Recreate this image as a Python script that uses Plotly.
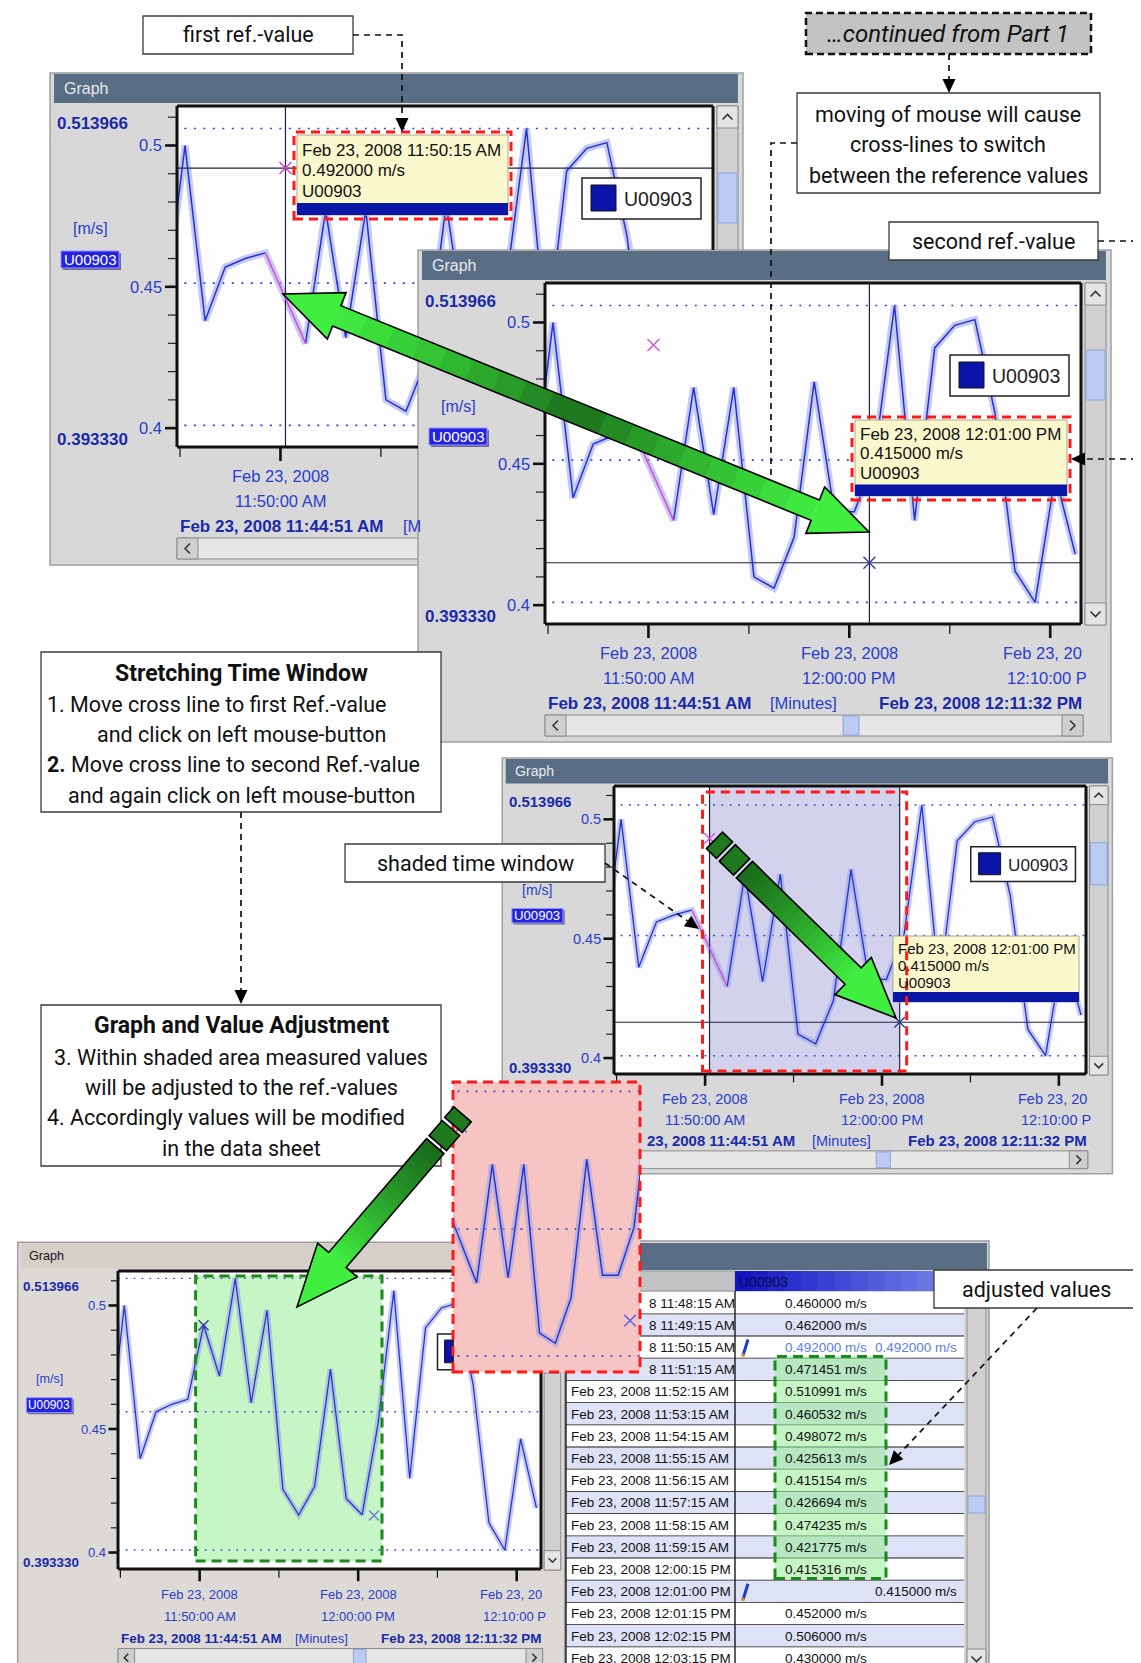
import math
import plotly.graph_objects as go
from datetime import datetime, timedelta

W, H = 1141, 1663

# ----------------------------- data -----------------------------
series_name = "U00903"
unit = "m/s"
sample_times = [
    "2008-02-23 11:44:15", "2008-02-23 11:45:15", "2008-02-23 11:46:15", "2008-02-23 11:47:15",
    "2008-02-23 11:48:15", "2008-02-23 11:49:15", "2008-02-23 11:50:15", "2008-02-23 11:51:15",
    "2008-02-23 11:52:15", "2008-02-23 11:53:15", "2008-02-23 11:54:15", "2008-02-23 11:55:15",
    "2008-02-23 11:56:15", "2008-02-23 11:57:15", "2008-02-23 11:58:15", "2008-02-23 11:59:15",
    "2008-02-23 12:00:15", "2008-02-23 12:01:15", "2008-02-23 12:02:15", "2008-02-23 12:03:15",
    "2008-02-23 12:04:15", "2008-02-23 12:05:15", "2008-02-23 12:06:15", "2008-02-23 12:07:15",
    "2008-02-23 12:08:15", "2008-02-23 12:09:15", "2008-02-23 12:10:15", "2008-02-23 12:11:15"]
measured_values = [0.443, 0.500, 0.438, 0.457, 0.460, 0.462, None, 0.430,
                   0.477, 0.432, 0.477, 0.410, 0.406, 0.424, 0.479, 0.433,
                   0.433, 0.452, 0.506, 0.430, 0.491, 0.499, 0.501, 0.468,
                   0.412, 0.401, 0.446, 0.418]
adjusted_values = [0.443, 0.500, 0.438, 0.457, 0.460, 0.462, 0.492, 0.471451,
                   0.510991, 0.460532, 0.498072, 0.425613, 0.415154, 0.426694, 0.474235, 0.421775,
                   0.415316, 0.452, 0.506, 0.430, 0.491, 0.499, 0.501, 0.468,
                   0.412, 0.401, 0.446, 0.418]
ref_times = ["2008-02-23 11:50:15", "2008-02-23 12:01:00"]
ref_values = [0.492, 0.415]
window_start = "2008-02-23 11:44:51"
window_end = "2008-02-23 12:11:32"
axis_min_label = 0.393330
axis_max_label = 0.513966
y_tick_values = [0.40, 0.45, 0.50]
y_tick_labels = ["0.4", "0.45", "0.5"]
table_first = "2008-02-23 11:48:15"
table_last = "2008-02-23 12:03:15"
inset_start = "2008-02-23 11:49:45"
inset_end = "2008-02-23 12:01:38"
inset_ymin, inset_ymax = 0.3946, 0.5097

LONG = "%b %d, %Y %I:%M:%S %p"
UI = "Liberation Sans, Arial, sans-serif"
NARROW = "Roboto, Liberation Sans, sans-serif"


def DT(s):
    return datetime.strptime(s, "%Y-%m-%d %H:%M:%S")


def fmt(d):
    return d.strftime("%Y-%m-%d %H:%M:%S.%f")[:-3]


def make_g(L, T, R, B, t0=None, t1=None, y0=axis_min_label, y1=axis_max_label):
    return dict(L=L, T=T, R=R, B=B, t0=t0 or DT(window_start), t1=t1 or DT(window_end), y0=y0, y1=y1)


def tx(g, t):
    if isinstance(t, str):
        t = DT(t)
    return g['L'] + (t - g['t0']).total_seconds() / (g['t1'] - g['t0']).total_seconds() * (g['R'] - g['L'])


def vy(g, v):
    return g['B'] - (v - g['y0']) / (g['y1'] - g['y0']) * (g['B'] - g['T'])


def px2t(g, x):
    return g['t0'] + (g['t1'] - g['t0']) * ((x - g['L']) / (g['R'] - g['L']))


def py2v(g, y):
    return g['y0'] + (g['B'] - y) / (g['B'] - g['T']) * (g['y1'] - g['y0'])


shapes, annotations, traces, axes = [], [], [], {}


def X(x):
    return x / W


def Y(y):
    return 1 - y / H


def _line(color, lw, dash=None):
    d = dict(color=color if color else 'rgba(0,0,0,0)', width=lw if color else 0)
    if dash:
        d['dash'] = dash
    return d


def rect(x0, y0, x1, y1, fill=None, line=None, lw=1.0, dash=None, layer='below'):
    shapes.append(dict(type='rect', xref='paper', yref='paper', x0=X(x0), x1=X(x1), y0=Y(y1), y1=Y(y0),
                       fillcolor=fill or 'rgba(0,0,0,0)', line=_line(line, lw, dash), layer=layer))


def seg(x0, y0, x1, y1, color='black', lw=1.0, dash=None, layer='below'):
    shapes.append(dict(type='line', xref='paper', yref='paper', x0=X(x0), x1=X(x1), y0=Y(y0), y1=Y(y1),
                       line=_line(color, lw, dash), layer=layer))


def poly(pts, fill=None, line=None, lw=1.0, dash=None, layer='above', closed=True):
    p = 'M ' + ' L '.join(f'{X(a):.6f},{Y(b):.6f}' for a, b in pts) + (' Z' if closed else '')
    shapes.append(dict(type='path', xref='paper', yref='paper', path=p, fillcolor=fill or 'rgba(0,0,0,0)',
                       line=_line(line, lw, dash), layer=layer))


def circle(cx, cy, r, fill, layer='above'):
    shapes.append(dict(type='circle', xref='paper', yref='paper', x0=X(cx - r), x1=X(cx + r), y0=Y(cy + r),
                       y1=Y(cy - r), fillcolor=fill, line=dict(width=0), layer=layer))


def text(x, y, s, size, color='#111111', align='center', family=UI, bold=False, italic=False, hide=None, cw=None):
    if hide is not None:
        hx0, hy0, hx1, hy1 = hide
        if hx0 <= x <= hx1 and hy0 <= y <= hy1:
            cw = cw or size * 0.55
            n = len(s)
            if align == 'left':
                k = math.ceil((hx1 - x) / cw)
                if k >= n:
                    return
                s = s[k:]
                x = x + k * cw
            else:
                left = x - (n * cw if align == 'right' else n * cw / 2)
                k = int((hx0 - left) // cw)
                if k <= 0:
                    return
                s = s[:k]
                x = left
                align = 'left'
    t = s
    if bold:
        t = f'<b>{t}</b>'
    if italic:
        t = f'<i>{t}</i>'
    annotations.append(dict(xref='paper', yref='paper', x=X(x), y=Y(y), text=t, showarrow=False,
                            xanchor=align, yanchor='middle', font=dict(size=size, color=color, family=family)))


def chevron(cx, cy, d, s, color='#333333', lw=1.6):
    if d == 'up':
        pts = [(cx - s, cy + s / 2), (cx, cy - s / 2), (cx + s, cy + s / 2)]
    elif d == 'down':
        pts = [(cx - s, cy - s / 2), (cx, cy + s / 2), (cx + s, cy - s / 2)]
    elif d == 'left':
        pts = [(cx + s / 2, cy - s), (cx - s / 2, cy), (cx + s / 2, cy + s)]
    else:
        pts = [(cx - s / 2, cy - s), (cx + s / 2, cy), (cx - s / 2, cy + s)]
    poly(pts, line=color, lw=lw, layer='below', closed=False)


def clip_seg(a, b, hide):
    if hide is None:
        return [(a, b)]
    hx0, hy0, hx1, hy1 = hide
    out = []
    if a[1] == b[1]:
        y = a[1]
        if not (hy0 <= y <= hy1):
            return [(a, b)]
        x0, x1 = sorted((a[0], b[0]))
        if x0 < hx0:
            out.append(((x0, y), (min(x1, hx0), y)))
        if x1 > hx1:
            out.append(((max(x0, hx1), y), (x1, y)))
    else:
        x = a[0]
        if not (hx0 <= x <= hx1):
            return [(a, b)]
        y0, y1 = sorted((a[1], b[1]))
        if y0 < hy0:
            out.append(((x, y0), (x, min(y1, hy0))))
        if y1 > hy1:
            out.append(((x, max(y0, hy1)), (x, y1)))
    return out


# ----------------------------- subplots & series -----------------------------
def subplot(g, region=None):
    k = len([a for a in axes if a.startswith('xaxis')]) + 1
    x0, y0, x1, y1 = region if region else (g['L'], g['T'], g['R'], g['B'])
    sfx = '' if k == 1 else str(k)
    axes['xaxis' + sfx] = dict(domain=[X(x0), X(x1)], range=[fmt(px2t(g, x0)), fmt(px2t(g, x1))], type='date',
                               visible=False, anchor='y' + sfx, fixedrange=True)
    axes['yaxis' + sfx] = dict(domain=[Y(y1), Y(y0)], range=[py2v(g, y1), py2v(g, y0)], visible=False,
                               anchor='x' + sfx, fixedrange=True)
    return 'x' + sfx, 'y' + sfx


def series(xa, ya, g, values, s, gap=False, shade=None, vlines=(), hlines=(), marks=()):
    common = dict(xaxis=xa, yaxis=ya, hoverinfo='skip', showlegend=False)
    lo, hi = fmt(g['t0'] - timedelta(minutes=2)), fmt(g['t1'] + timedelta(minutes=2))
    if shade:
        a, b = shade
        traces.append(go.Scatter(x=[a, a, b, b, a], y=[g['y0'] - 1, g['y1'] + 1, g['y1'] + 1, g['y0'] - 1, g['y0'] - 1],
                                 mode='lines', fill='toself', fillcolor='rgba(150,150,214,0.42)',
                                 line=dict(width=0), **common))
    vals = [v for v in values if v is not None]
    for lv in (max(vals), sum(vals) / len(vals), min(vals)):
        traces.append(go.Scatter(x=[lo, hi], y=[lv, lv], mode='lines',
                                 line=dict(color='#3443d6', width=1.7 * s, dash=f'{2 * s:.1f}px,{7.5 * s:.1f}px'),
                                 **common))
    traces.append(go.Scatter(x=sample_times, y=values, mode='lines', connectgaps=True,
                             line=dict(color='rgba(150,160,232,0.55)', width=7 * s), **common))
    for t in vlines:
        traces.append(go.Scatter(x=[t, t], y=[g['y0'] - 1, g['y1'] + 1], mode='lines',
                                 line=dict(color='#22223e', width=1.2), **common))
    for v in hlines:
        traces.append(go.Scatter(x=[lo, hi], y=[v, v], mode='lines', line=dict(color='#22223e', width=1.2), **common))
    traces.append(go.Scatter(x=sample_times, y=values, mode='lines', connectgaps=not gap,
                             line=dict(color='#2431cf', width=1.5 * s), **common))
    if gap and None in values:
        i = values.index(None)
        traces.append(go.Scatter(x=[sample_times[i - 1], sample_times[i + 1]], y=[values[i - 1], values[i + 1]],
                                 mode='lines', line=dict(color='#e040d8', width=1.4 * s), **common))
    for t, v, c in marks:
        traces.append(go.Scatter(x=[t], y=[v], mode='markers',
                                 marker=dict(symbol='x-thin', size=12 * s, line=dict(width=1.4, color=c)), **common))


# ----------------------------- window chrome -----------------------------
BLUE, DBLUE = '#2b3ccc', '#1a2aa8'


def window(g, sx, sy, classic=False, hide=None):
    L, T, R, B = g['L'], g['T'], g['R'], g['B']
    f = sx
    body = '#dddad5' if classic else '#d8d8d8'
    rect(L - 127 * sx, T - 33 * sy, R + 30 * sx, B + 118 * sy, fill=body, line='#a0a0a0', lw=1.5)
    rect(L - 123 * sx, T - 32 * sy, R + 25 * sx, T - 3 * sy, fill='#d4d0c8' if classic else '#596d84')
    text(L - 115 * sx, T - 17.5 * sy, 'Graph', 16 * f, '#151515' if classic else '#e4e9f0', 'left', hide=hide)
    rect(L, T, R, B, fill='#fdfdfd')
    text(L - 47 * sx, T + 18 * sy, f'{axis_max_label:.6f}', 17 * f, DBLUE, 'right', bold=True, hide=hide)
    text(L - 47 * sx, B - 8 * sy, f'{axis_min_label:.6f}', 17 * f, DBLUE, 'right', bold=True, hide=hide)
    for v, lab in zip(y_tick_values, y_tick_labels):
        text(L - 13 * sx, vy(g, v), lab, 16.5 * f, BLUE, 'right', hide=hide)
    text(L - 87 * sx, T + 123 * sy, f'[{unit}]', 16 * f, BLUE, hide=hide)
    rect(L - 114 * sx, T + 147 * sy, L - 56 * sx, T + 164 * sy, fill='#6c6c8c')
    rect(L - 116 * sx, T + 145 * sy, L - 58 * sx, T + 162 * sy, fill='#2424e0', line='#9090ff', lw=1)
    text(L - 87 * sx, T + 153.5 * sy, series_name, 15 * f, '#ffffff', hide=hide)
    # y ticks
    for i in range(38, 53):
        v = i / 100
        if v < g['y0'] or v > g['y1']:
            continue
        y = vy(g, v)
        if i % 5 == 0:
            seg(L - 12 * sx, y, L, y, '#111111', 2.6)
        else:
            seg(L - 9 * sx, y, L, y, '#222222', 1.2)
    # x ticks
    t = datetime(2008, 2, 23, 11, 45)
    cw = 8.2 * f
    while t <= g['t1']:
        x = tx(g, t)
        if x >= L - 1:
            major = t.minute % 10 == 0
            seg(x, B, x, B + (14 if major else 10) * sy, '#111111', 2.6 if major else 1.2)
            if major:
                lim = R + 3 * sx
                for lab, yy in ((t.strftime('%b %d, %Y'), B + 29 * sy), (t.strftime('%I:%M:%S %p'), B + 54 * sy)):
                    hw = len(lab) * cw / 2
                    if x + hw > lim:
                        k = round((x + hw - lim) / cw)
                        text(x - hw, yy, lab[:len(lab) - k], 16.5 * f, BLUE, 'left', hide=hide)
                    else:
                        text(x, yy, lab, 16.5 * f, BLUE, 'center', hide=hide)
        t += timedelta(minutes=5)
    text(L + 1, B + 79 * sy, g['t0'].strftime(LONG), 17 * f, DBLUE, 'left', bold=True, hide=hide, cw=8.6 * f)
    text(L + 258 * sx, B + 79 * sy, '[Minutes]', 16.5 * f, BLUE, hide=hide, cw=7.6 * f)
    text(R + 3 * sx, B + 79 * sy, g['t1'].strftime(LONG), 17 * f, DBLUE, 'right', bold=True, hide=hide)
    # horizontal scrollbar
    hy0, hy1 = B + 91 * sy, B + 112 * sy
    rect(L, hy0, R + 2 * sx, hy1, fill='#e6e6e6', line='#8c8c8c', lw=1)
    rect(L, hy0, L + 21 * sx, hy1, fill='#cfcfcf', line='#8c8c8c', lw=1)
    rect(R - 19 * sx, hy0, R + 2 * sx, hy1, fill='#cfcfcf', line='#8c8c8c', lw=1)
    chevron(L + 10.5 * sx, (hy0 + hy1) / 2, 'left', 5 * f)
    chevron(R - 8.5 * sx, (hy0 + hy1) / 2, 'right', 5 * f)
    rect(L + 298 * sx, hy0 + 1, L + 314 * sx, hy1 - 1, fill='#bccbf2', line='#8ea4dc', lw=1)
    # vertical scrollbar
    vx0, vx1 = R + 4 * sx, R + 25 * sx
    rect(vx0, T, vx1, B + 1, fill='#d0d0d0', line='#8c8c8c', lw=1)
    rect(vx0, T, vx1, T + 22 * sy, fill='#e4e4e4', line='#8c8c8c', lw=1)
    rect(vx0, B - 21 * sy, vx1, B + 1, fill='#e4e4e4', line='#8c8c8c', lw=1)
    chevron((vx0 + vx1) / 2, T + 11 * sy, 'up', 5 * f)
    chevron((vx0 + vx1) / 2, B - 10 * sy, 'down', 5 * f)
    rect(vx0 + 1, T + 67 * sy, vx1 - 1, T + 117 * sy, fill='#bccbf2', line='#8ea4dc', lw=1)


def frame(g, hide=None, lw=3):
    L, T, R, B = g['L'], g['T'], g['R'], g['B']
    for a, b in (((L, T), (R, T)), ((L, B), (R, B)), ((L, T), (L, B)), ((R, T), (R, B))):
        for p, q in clip_seg(a, b, hide):
            seg(p[0], p[1], q[0], q[1], '#111111', lw, layer='above')


def legend(g, sx, sy, hide=None):
    L, T, R, B = g['L'], g['T'], g['R'], g['B']
    f = sx
    x0, x1 = R - 131 * sx, R - 12 * sx
    lim = hide[0] if hide else 1e9
    rect(x0, T + 72 * sy, min(x1, lim), T + 113 * sy, fill='#ffffff', line='#222222', lw=1.5, layer='above')
    if R - 122 * sx < lim:
        rect(R - 122 * sx, T + 79 * sy, min(R - 97 * sx, lim), T + 105 * sy, fill='#0a14a8', line='#111111',
             lw=1, layer='above')
    text(R - 55 * sx, T + 93 * sy, series_name, 19.5 * f, '#222222', hide=hide)


def tooltip(x0, y0, x1, y1, idx, size, red=True):
    rect(x0, y0, x1, y1, fill='#f8f8cc', line='#a8a890', lw=1, layer='above')
    hgt = y1 - y0
    rect(x0, y1 - 0.15 * hgt, x1, y1, fill='#0a16a6', layer='above')
    lines = [DT(ref_times[idx]).strftime(LONG), f'{ref_values[idx]:.6f} {unit}', series_name]
    for j, s in enumerate(lines):
        text(x0 + 3, y0 + hgt * (0.19 + 0.255 * j), s, size, '#111111', 'left')
    if red:
        rect(x0 - 3, y0 - 3, x1 + 3, y1 + 4, line='#ff1a1a', lw=3, dash='9px,6px', layer='above')


# ----------------------------- graph geometry -----------------------------
G1 = make_g(169, 98, 705, 439)
G2 = make_g(537, 275, 1073, 616)
G3 = make_g(606, 778, 1078, 1066)
G4 = make_g(110, 1263, 533, 1561)
GP = make_g(445, 1074, 632, 1364, DT(inset_start), DT(inset_end), inset_ymin, inset_ymax)
W2_RECT = (G2['L'] - 127, G2['T'] - 33, G2['R'] + 30, G2['B'] + 118)
PINK = (GP['L'], GP['T'], GP['R'], GP['B'])

# ---- Graph 1 (partly covered by Graph 2) ----
window(G1, 1, 1, hide=W2_RECT)
for reg in ((G1['L'], G1['T'], G1['R'], W2_RECT[1]), (G1['L'], W2_RECT[1], W2_RECT[0], G1['B'])):
    xa, ya = subplot(G1, reg)
    series(xa, ya, G1, measured_values, 1, gap=True, vlines=[ref_times[0]], hlines=[ref_values[0]],
           marks=[(ref_times[0], ref_values[0], '#d040d0')])
frame(G1, hide=W2_RECT)
legend(G1, 1, 1)
tooltip(289, 127, 500, 207, 0, 17)

# ---- Graph 2 ----
window(G2, 1, 1)
xa, ya = subplot(G2)
series(xa, ya, G2, measured_values, 1, gap=True, vlines=[ref_times[1]], hlines=[ref_values[1]],
       marks=[(ref_times[0], ref_values[0], '#d050e0'), (ref_times[1], ref_values[1], '#3040a0')])
frame(G2)
legend(G2, 1, 1)
tooltip(847, 412, 1059, 488, 1, 17)

# ---- Graph 3 ----
S3x, S3y = 0.88, 0.845
window(G3, S3x, S3y, hide=PINK)
xa, ya = subplot(G3)
series(xa, ya, G3, measured_values, 0.88, gap=True, shade=ref_times, vlines=ref_times, hlines=[ref_values[1]],
       marks=[(ref_times[0], ref_values[0], '#d050e0'), (ref_times[1], ref_values[1], '#3040a0')])
frame(G3)
legend(G3, S3x, S3y)
tooltip(885, 928, 1071, 994, 1, 15, red=False)
rect(tx(G3, ref_times[0]) - 7, G3['T'] + 6, tx(G3, ref_times[1]) + 7, G3['B'] - 3, line='#ff1a1a', lw=3,
     dash='9px,6px', layer='above')

# ---- Graph 4 (adjusted) ----
S4x, S4y = 0.79, 0.874
window(G4, S4x, S4y, classic=True, hide=PINK)
gx0, gx1 = tx(G4, ref_times[0]) - 8, tx(G4, ref_times[1]) + 8
rect(gx0, G4['T'] + 5, gx1, G4['B'] - 8, fill='#c6f5c6')
for reg in ((G4['L'], G4['T'], PINK[0], G4['B']), (PINK[0], PINK[3], G4['R'], G4['B'])):
    xa, ya = subplot(G4, reg)
    series(xa, ya, G4, adjusted_values, 0.83,
           marks=[(ref_times[0], ref_values[0], '#3040a0'), (ref_times[1], ref_values[1], '#6a7ae0')])
frame(G4, hide=PINK)
legend(G4, S4x, S4y, hide=PINK)
rect(gx0, G4['T'] + 5, gx1, G4['B'] - 8, line='#1a8a1a', lw=3, dash='10px,6px', layer='above')

# ---- data sheet ----
rect(557, 1233, 981, 1663, fill='#d6d6d6', line='#9a9a9a', lw=1.5)
rect(559, 1235, 979, 1262, fill='#596d84')
c0, c1, c2 = 558, 727, 956
rect(c0, 1263, c1, 1283, fill='#c2c2c2', line='#9a9a9a', lw=1)
nb = 14
for i in range(nb):
    a = c1 + (c2 + 4 - c1) * i / nb
    b = c1 + (c2 + 4 - c1) * (i + 1) / nb + 0.6
    t_ = i / (nb - 1)
    col = '#%02x%02x%02x' % (round(0x14 + (0x78 - 0x14) * t_), round(0x14 + (0x88 - 0x14) * t_), round(0xc4 + (0xe8 - 0xc4) * t_))
    rect(a, 1263, b, 1283, fill=col)
text(c1 + 2, 1273.5, series_name, 14, '#0c0c48', 'left')
rows = sorted(set([t for t in sample_times if table_first <= t <= table_last] + ref_times))
rh = 22.2
row_top = 1284
for i, t in enumerate(rows):
    y0 = row_top + i * rh
    y1 = y0 + rh
    yc = (y0 + y1) / 2
    rect(c0, y0, c2, y1, fill='#ffffff' if i % 2 == 0 else '#dde2f6')
    seg(c0, y1, c2, y1, '#1a1a1a', 1.6)
    text(561, yc, DT(t).strftime(LONG), 13.5, '#111111', 'left', hide=PINK, cw=7.05)
    val = adjusted_values[sample_times.index(t)] if t in sample_times else None
    ref = ref_values[ref_times.index(t)] if t in ref_times else None
    if val is not None:
        text(818, yc, f'{val:.6f} {unit}', 13.5, '#5b7cf0' if ref is not None else '#111111')
    if ref is not None:
        text(951, yc, f'{ref:.6f} {unit}', 13.5, '#5b7cf0' if val is not None else '#111111', 'right')
        seg(735, yc + 8, 740, yc - 8, '#1a3ad0', 3)
        seg(734.6, yc + 9, 735.6, yc + 6, '#e08020', 3)
seg(c1, 1283, c1, row_top + len(rows) * rh, '#1a1a1a', 1.4)
seg(c0, 1283, c0, row_top + len(rows) * rh, '#1a1a1a', 1.4)
rect(959, 1263, 978, 1663, fill='#d0d0d0', line='#8c8c8c', lw=1)
rect(959, 1263, 978, 1284, fill='#e4e4e4', line='#8c8c8c', lw=1)
rect(959, 1641, 978, 1663, fill='#e4e4e4', line='#8c8c8c', lw=1)
chevron(968.5, 1651, 'down', 5)
rect(960, 1488, 977, 1505, fill='#bccbf2', line='#8ea4dc', lw=1)
adj_rows = [i for i, t in enumerate(rows) if t in sample_times and measured_values[sample_times.index(t)] is not None
            and adjusted_values[sample_times.index(t)] != measured_values[sample_times.index(t)]]
ay0 = row_top + min(adj_rows) * rh - 2
ay1 = row_top + (max(adj_rows) + 1) * rh - 2
rect(767, ay0, 878, ay1, fill='rgba(150,235,150,0.55)')
rect(767, ay0, 878, ay1, line='#1a8a1a', lw=3, dash='10px,6px', layer='above')

# ---- pink stretched inset ----
rect(PINK[0], PINK[1], PINK[2], PINK[3], fill='#f7c4c4')
xa, ya = subplot(GP)
series(xa, ya, GP, measured_values, 0.95,
       marks=[(ref_times[0], ref_values[0], '#5a5ae6'), (ref_times[1], ref_values[1], '#5a5ae6')])
rect(PINK[0], PINK[1], PINK[2], PINK[3], line='#ff1a1a', lw=3, dash='10px,6px', layer='above')

# ----------------------------- green arrows -----------------------------
DARK, BRIGHT, PIECE = '#1b6c1b', '#40ee40', '#1f7a1f'


def lerp_col(c0_, c1_, t):
    a = [int(c0_[i:i + 2], 16) for i in (1, 3, 5)]
    b = [int(c1_[i:i + 2], 16) for i in (1, 3, 5)]
    return '#%02x%02x%02x' % tuple(round(a[i] + (b[i] - a[i]) * t) for i in range(3))


def green_arrow(tip, vec, length, hl, hw, sw, double=False, pieces=()):
    n_ = math.hypot(*vec)
    ux, uy = vec[0] / n_, vec[1] / n_
    nx, ny = -uy, ux

    def pt(d, off):
        return (tip[0] - ux * d + nx * off, tip[1] - uy * d + ny * off)

    d0, d1 = hl, length - (hl if double else 0)
    N = 18
    for i in range(N):
        a = d0 + (d1 - d0) * i / N
        b = d0 + (d1 - d0) * (i + 1) / N + 0.8
        s = 1 - ((a + b) / 2 - d0) / (d1 - d0)
        tc = abs(2 * s - 1) ** 0.8 if double else s ** 1.2
        poly([pt(a, -sw), pt(b, -sw), pt(b, sw), pt(a, sw)], fill=lerp_col(DARK, BRIGHT, tc))
    poly([tip, pt(hl, hw), pt(hl, -hw)], fill=BRIGHT)
    if double:
        poly([pt(length, 0), pt(length - hl, hw), pt(length - hl, -hw)], fill=BRIGHT)
        outline = [tip, pt(hl, hw), pt(hl, sw), pt(length - hl, sw), pt(length - hl, hw), pt(length, 0),
                   pt(length - hl, -hw), pt(length - hl, -sw), pt(hl, -sw), pt(hl, -hw)]
    else:
        outline = [tip, pt(hl, hw), pt(hl, sw), pt(length, sw), pt(length, -sw), pt(hl, -sw), pt(hl, -hw)]
    poly(outline, line='#000000', lw=1.6)
    for a, b in pieces:
        poly([pt(a, -sw), pt(b, -sw), pt(b, sw), pt(a, sw)], fill=PIECE, line='#000000', lw=1.6)


# ----------------------------- annotation boxes & connectors -----------------------------
def box(x0, y0, x1, y1, fill='#ffffff', line='#3a3a3a', lw=1.3, dash=None):
    rect(x0, y0, x1, y1, fill=fill, line=line, lw=lw, dash=dash, layer='above')


def head(tip, frm, Lh=14, hw=6.5):
    dx, dy = tip[0] - frm[0], tip[1] - frm[1]
    n_ = math.hypot(dx, dy)
    ux, uy = dx / n_, dy / n_
    bx, by = tip[0] - ux * Lh, tip[1] - uy * Lh
    poly([tip, (bx - uy * hw, by + ux * hw), (bx + uy * hw, by - ux * hw)], fill='#000000')
    return (bx, by)


def connector(pts, arrow=True):
    pts = list(pts)
    if arrow:
        base = head(pts[-1], pts[-2])
        pts = pts[:-1] + [base]
    poly(pts, line='#111111', lw=1.7, dash='6px,5px', closed=False)


FS = 21.5
FB = 23
box(135, 8, 345, 46)
text(240, 27, 'first ref.-value', FS, family=NARROW)
connector([(345, 27), (394, 27), (394, 124)])

box(798, 5, 1083, 46, fill='#c3c3c3', line='#111111', lw=2.5, dash='7px,4px')
text(940, 26, '…continued from Part 1', 24, family=NARROW, italic=True)
connector([(941, 46), (941, 85)])

box(789, 85, 1092, 185)
for j, s in enumerate(['moving of mouse will cause', 'cross-lines to switch', 'between the reference values']):
    text(940, 106 + 30.5 * j, s, FS, family=NARROW)
connector([(789, 135), (763, 135), (763, 486)], arrow=False)
circle(763, 486, 5.5, '#000000')

box(881, 214, 1090, 252)
text(985, 233, 'second ref.-value', FS, family=NARROW)
connector([(1090, 233), (1138, 233), (1138, 451), (1063, 451)])

box(33, 644, 433, 804)
text(233, 665, 'Stretching Time Window', FB, family=NARROW, bold=True)
text(37, 696, '1. Move cross line to first Ref.-value', FS, family=NARROW, align='left')
text(233, 726, 'and click on left mouse-button', FS, family=NARROW)
text(37, 756, '<b>2.</b> Move cross line to second Ref.-value', FS, family=NARROW, align='left')
text(233, 787, 'and again click on left mouse-button', FS, family=NARROW)
connector([(233, 804), (233, 996)])

box(33, 997, 433, 1158)
text(233, 1018, 'Graph and Value Adjustment', FB, family=NARROW, bold=True)
text(233, 1049, '3. Within shaded area measured values', FS, family=NARROW)
text(233, 1079, 'will be adjusted to the ref.-values', FS, family=NARROW)
text(37, 1109, '4. Accordingly values will be modified', FS, family=NARROW, align='left')
text(233, 1140, 'in the data sheet', FS, family=NARROW)

box(337, 836, 597, 874)
text(467, 855, 'shaded time window', FS, family=NARROW)
connector([(597, 855), (691, 921)])

box(926, 1262, 1130, 1300)
text(1028, 1281, 'adjusted values', FS, family=NARROW)
connector([(1029, 1300), (881, 1457)])

# green arrows on top
green_arrow((861, 524), (861 - 275, 524 - 286), math.hypot(861 - 275, 524 - 286), 58, 25, 11, double=True)
green_arrow((888, 1010), (187, 183), 212, 60, 26, 11.5, pieces=[(216, 236), (240, 254)])
green_arrow((289, 1299), (-171, 199), 212, 62, 26, 11.5, pieces=[(216, 236), (240, 254)])

fig = go.Figure(data=traces)
fig.update_layout(width=W, height=H, margin=dict(l=0, r=0, t=0, b=0), paper_bgcolor='white',
                  plot_bgcolor='rgba(0,0,0,0)', showlegend=False, shapes=shapes, annotations=annotations,
                  hovermode=False, **axes)
fig.write_html("out.html")
